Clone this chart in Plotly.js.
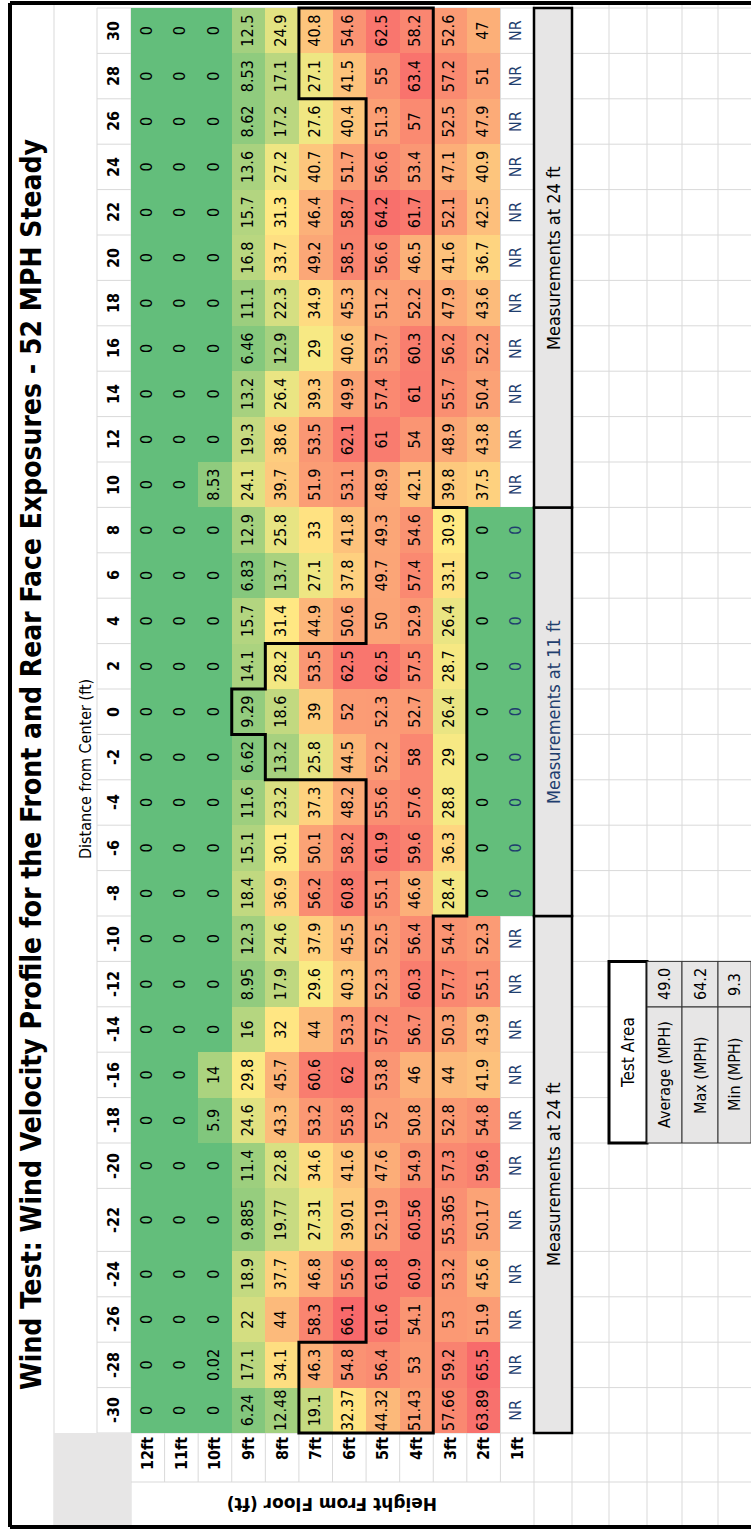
<!DOCTYPE html>
<html><head><meta charset="utf-8">
<script src="https://cdn.plot.ly/plotly-3.0.1.min.js"></script>
<style>
html,body{margin:0;padding:0;width:751px;height:1529px;overflow:hidden;background:#fff}
#wrap{position:absolute;left:0;top:0;width:1529px;height:751px;transform-origin:0 0;transform:translate(0px,1529px) rotate(-90deg);}
#chart{width:1529px;height:751px}
</style></head>
<body><div id="wrap"><div id="chart"></div></div>
<script>
// ---------------- DATA ----------------
const distances = [-30,-28,-26,-24,-22,-20,-18,-16,-14,-12,-10,-8,-6,-4,-2,0,2,4,6,8,10,12,14,16,18,20,22,24,26,28,30];
const heights = ['12ft','11ft','10ft','9ft','8ft','7ft','6ft','5ft','4ft','3ft','2ft','1ft'];
// values per height row, ordered by distance -30 ... 30
const h12 = [0,0,0,0,0,0,0,0,0,0,0,0,0,0,0,0,0,0,0,0,0,0,0,0,0,0,0,0,0,0,0];
const h11 = [0,0,0,0,0,0,0,0,0,0,0,0,0,0,0,0,0,0,0,0,0,0,0,0,0,0,0,0,0,0,0];
const h10 = [0,0.02,0,0,0,0,5.9,14,0,0,0,0,0,0,0,0,0,0,0,0,8.53,0,0,0,0,0,0,0,0,0,0];
const h9  = [6.24,17.1,22,18.9,9.885,11.4,24.6,29.8,16,8.95,12.3,18.4,15.1,11.6,6.62,9.29,14.1,15.7,6.83,12.9,24.1,19.3,13.2,6.46,11.1,16.8,15.7,13.6,8.62,8.53,12.5];
const h8  = [12.48,34.1,44,37.7,19.77,22.8,43.3,45.7,32,17.9,24.6,36.9,30.1,23.2,13.2,18.6,28.2,31.4,13.7,25.8,39.7,38.6,26.4,12.9,22.3,33.7,31.3,27.2,17.2,17.1,24.9];
const h7  = [19.1,46.3,58.3,46.8,27.31,34.6,53.2,60.6,44,29.6,37.9,56.2,50.1,37.3,25.8,39,53.5,44.9,27.1,33,51.9,53.5,39.3,29,34.9,49.2,46.4,40.7,27.6,27.1,40.8];
const h6  = [32.37,54.8,66.1,55.6,39.01,41.6,55.8,62,53.3,40.3,45.5,60.8,58.2,48.2,44.5,52,62.5,50.6,37.8,41.8,53.1,62.1,49.9,40.6,45.3,58.5,58.7,51.7,40.4,41.5,54.6];
const h5  = [44.32,56.4,61.6,61.8,52.19,47.6,52,53.8,57.2,52.3,52.5,55.1,61.9,55.6,52.2,52.3,62.5,50,49.7,49.3,48.9,61,57.4,53.7,51.2,56.6,64.2,56.6,51.3,55,62.5];
const h4  = [51.43,53,54.1,60.9,60.56,54.9,50.8,46,56.7,60.3,56.4,46.6,59.6,57.6,58,52.7,57.5,52.9,57.4,54.6,42.1,54,61,60.3,52.2,46.5,61.7,53.4,57,63.4,58.2];
const h3  = [57.66,59.2,53,53.2,55.365,57.3,52.8,44,50.3,57.7,54.4,28.4,36.3,28.8,29,26.4,28.7,26.4,33.1,30.9,39.8,48.9,55.7,56.2,47.9,41.6,52.1,47.1,52.5,57.2,52.6];
const h2  = [63.89,65.5,51.9,45.6,50.17,59.6,54.8,41.9,43.9,55.1,52.3,0,0,0,0,0,0,0,0,0,37.5,43.8,50.4,52.2,43.6,36.7,42.5,40.9,47.9,51,47];
const h1  = ['NR','NR','NR','NR','NR','NR','NR','NR','NR','NR','NR',0,0,0,0,0,0,0,0,0,'NR','NR','NR','NR','NR','NR','NR','NR','NR','NR','NR'];
const rows = [h12,h11,h10,h9,h8,h7,h6,h5,h4,h3,h2,h1];
// test area outline: top and bottom height per distance column
const testTop = ['7ft','7ft','5ft','5ft','5ft','5ft','5ft','5ft','5ft','5ft','5ft','5ft','5ft','5ft','8ft','9ft','8ft','5ft','5ft','5ft','5ft','5ft','5ft','5ft','5ft','5ft','5ft','5ft','5ft','7ft','7ft'];
const testBottom = ['4ft','4ft','4ft','4ft','4ft','4ft','4ft','4ft','4ft','4ft','4ft','3ft','3ft','3ft','3ft','3ft','3ft','3ft','3ft','3ft','4ft','4ft','4ft','4ft','4ft','4ft','4ft','4ft','4ft','4ft','4ft'];
// measurement groups
const groupFrom = [-30,-8,10];
const groupTo = [-10,8,30];
const groupLabels = ['Measurements at 24 ft','Measurements at 11 ft','Measurements at 24 ft'];
// test area summary
const statLabels = ['Average (MPH)','Max (MPH)','Min (MPH)'];
const statValues = ['49.0','64.2','9.3'];
const statFrom = -18, statTo = -12;
const titleText = 'Wind Test: Wind Velocity Profile for the Front and Rear Face Exposures - 52 MPH Steady';

// ---------------- LAYOUT GEOMETRY (unrotated page, px) ----------------
const W = 1529, H = 751;
const G = {borderTop:10, borderL:2, borderR:1526, titleBot:54, distBot:97, headBot:131,
  dataBot:534, measBot:572, extraRows:[609,647,682,718], rowLabL:47, dataL:96, dataR:1521};
const NARROW = "'Liberation Sans Narrow','Arial Narrow','DejaVu Sans Condensed',sans-serif";
const GRAY = '#E7E6E6', GRID = '#D9D9D9', NAVY = '#1F3E6E';

const widthUnits = distances.map(d => d === -22 ? 63/45.4 : 1);
const E = [0]; widthUnits.forEach((w,i)=>E.push(E[i]+w));
const T = E[E.length-1];
const centers = distances.map((d,i)=>(E[i]+E[i+1])/2);
const s = (G.dataR - G.dataL)/T;
const rowH = (G.dataBot - G.headBot)/heights.length;
const xr = [-G.dataL/s, (W-G.dataL)/s];
const yr = [-0.5 + (H-G.headBot)/rowH, -0.5 - G.headBot/rowH];
const pu = u => u/W, pv = v => 1 - v/H;
const hi = h => heights.indexOf(h);
const di = d => distances.indexOf(d);

// colour scale: Excel 3-colour (min / 50th percentile / max)
const nums = [];
rows.forEach(r=>r.forEach(v=>{ if(typeof v==='number') nums.push(v); }));
nums.sort((a,b)=>a-b);
const zmin = nums[0], zmax = nums[nums.length-1];
const pos = (nums.length-1)*0.5, lo = Math.floor(pos);
const zmid = nums[lo] + (nums[Math.min(lo+1,nums.length-1)]-nums[lo])*(pos-lo);
const colorscale = [[0,'rgb(99,190,123)'],[(zmid-zmin)/(zmax-zmin),'rgb(255,235,132)'],[1,'rgb(248,105,107)']];

const z = rows.map(r=>r.map(v=> typeof v==='number' ? v : null));
const heat = {type:'heatmap', x:E, y:heights.map((h,i)=>i), z:z, colorscale:colorscale,
  zmin:zmin, zmax:zmax, showscale:false, hoverinfo:'skip', xgap:0, ygap:0};

const tx=[], ty=[], tt=[], tc=[];
rows.forEach((r,ri)=>r.forEach((v,ci)=>{
  tx.push(centers[ci]); ty.push(ri); tt.push(String(v));
  tc.push((v==='NR' || heights[ri]==='1ft') ? NAVY : '#000');
}));
const txt = {type:'scatter', mode:'text', x:tx, y:ty, text:tt, textposition:'middle center',
  textfont:{family:NARROW, size:16, color:tc}, hoverinfo:'skip', cliponaxis:false, showlegend:false};

// ---------------- SHAPES ----------------
const shapes = [];
const line = (x0,y0,x1,y1,color,w,layer,xref,yref)=>shapes.push({type:'line',x0,y0,x1,y1,xref,yref,layer,line:{color,width:w}});
// gridlines
E.forEach(e=>line(e,pv(G.distBot),e,0,GRID,1,'below','x','paper'));
line(pu(G.rowLabL),pv(G.headBot),pu(G.rowLabL),0,GRID,1,'below','paper','paper');
line(pu(G.borderL),pv(G.titleBot),pu(G.borderR),pv(G.titleBot),GRID,1,'below','paper','paper');
line(pu(G.dataL),pv(G.distBot),pu(G.dataR),pv(G.distBot),GRID,1,'below','paper','paper');
line(pu(G.borderL),pv(G.headBot),pu(G.dataR),pv(G.headBot),GRID,1,'below','paper','paper');
for(let k=1;k<heights.length;k++) line(pu(G.rowLabL),k-0.5,pu(G.dataR),k-0.5,GRID,1,'below','paper','y');
[G.dataBot,G.measBot].concat(G.extraRows).forEach(v=>line(pu(G.borderL),pv(v),pu(G.borderR),pv(v),GRID,1,'below','paper','paper'));
// gray corner
shapes.push({type:'rect',xref:'paper',yref:'paper',x0:pu(G.borderL),x1:pu(G.dataL),y0:pv(G.headBot),y1:pv(G.titleBot),fillcolor:GRAY,line:{width:0},layer:'below'});
// measurement boxes
groupFrom.forEach((f,i)=>{
  shapes.push({type:'rect',xref:'x',yref:'paper',x0:E[di(f)],x1:E[di(groupTo[i])+1],y0:pv(G.measBot),y1:pv(G.dataBot),
    fillcolor:GRAY,line:{color:'#000',width:2.5},layer:'above'});
});
// test area outline
const tTop = testTop.map(hi), tBot = testBottom.map(hi);
let p = `M ${E[0]},${tTop[0]-0.5}`;
for(let c=0;c<tTop.length;c++){ p+=` L ${E[c+1]},${tTop[c]-0.5}`; if(c<tTop.length-1) p+=` L ${E[c+1]},${tTop[c+1]-0.5}`; }
p+=` L ${E[tBot.length]},${tBot[tBot.length-1]+0.5}`;
for(let c=tBot.length-1;c>=0;c--){ p+=` L ${E[c]},${tBot[c]+0.5}`; if(c>0) p+=` L ${E[c]},${tBot[c-1]+0.5}`; }
p+=' Z';
shapes.push({type:'path',path:p,xref:'x',yref:'y',line:{color:'#000',width:3},layer:'above'});
// test area summary table
const sx0 = E[di(statFrom)], sx1 = E[di(statTo)+1], sxv = E[di(statTo)];
shapes.push({type:'rect',xref:'x',yref:'paper',x0:sx0,x1:sx1,y0:pv(G.extraRows[1]),y1:pv(G.extraRows[0]),fillcolor:'#fff',line:{color:'#000',width:3},layer:'above'});
const statRowsV = [G.extraRows[1],G.extraRows[2],G.extraRows[3],H];
statLabels.forEach((l,i)=>{
  shapes.push({type:'rect',xref:'x',yref:'paper',x0:sx0,x1:sxv,y0:pv(statRowsV[i+1]),y1:pv(statRowsV[i]),fillcolor:GRAY,line:{color:'#333',width:1},layer:'above'});
  shapes.push({type:'rect',xref:'x',yref:'paper',x0:sxv,x1:sx1,y0:pv(statRowsV[i+1]),y1:pv(statRowsV[i]),fillcolor:GRAY,line:{color:'#333',width:1},layer:'above'});
});
// outer border
line(pu(G.borderL),pv(G.borderTop),pu(G.borderR),pv(G.borderTop),'#000',4,'above','paper','paper');
line(pu(G.borderL),pv(G.borderTop),pu(G.borderL),0,'#000',4,'above','paper','paper');
line(pu(G.borderR),pv(G.borderTop),pu(G.borderR),0,'#000',4,'above','paper','paper');

// ---------------- ANNOTATIONS ----------------
const ann = [];
const A = (o)=>ann.push(Object.assign({showarrow:false,xanchor:'center',yanchor:'middle'},o));
A({xref:'paper',yref:'paper',x:pu((G.borderL+G.borderR)/2),y:pv((G.borderTop+G.titleBot)/2),text:'<b>'+titleText+'</b>',font:{family:NARROW,size:28,color:'#000'}});
A({xref:'paper',yref:'paper',x:pu(760),y:pv(86),text:'Distance from Center (ft)',font:{family:NARROW,size:16,color:'#000'}});
distances.forEach((d,i)=>A({xref:'x',yref:'paper',x:centers[i],y:pv((G.distBot+G.headBot)/2),text:'<b>'+d+'</b>',font:{family:NARROW,size:16,color:'#000'}}));
heights.forEach((h,i)=>A({xref:'paper',yref:'y',x:pu(G.dataL-2),y:i,xanchor:'right',text:'<b>'+h+'</b>',font:{family:NARROW,size:16,color:'#000'}}));
A({xref:'paper',yref:'paper',x:pu((G.borderL+G.rowLabL)/2),y:pv((G.headBot+G.dataBot)/2),textangle:-90,text:'<b>Height From Floor (ft)</b>',font:{family:"'DejaVu Sans',sans-serif",size:17,color:'#000'}});
groupFrom.forEach((f,i)=>A({xref:'x',yref:'paper',x:(E[di(f)]+E[di(groupTo[i])+1])/2,y:pv((G.dataBot+G.measBot)/2),text:groupLabels[i],font:{family:NARROW,size:18,color: i===1?NAVY:'#000'}}));
A({xref:'x',yref:'paper',x:(sx0+sx1)/2,y:pv((G.extraRows[0]+G.extraRows[1])/2),text:'Test Area',font:{family:NARROW,size:17,color:'#000'}});
statLabels.forEach((l,i)=>{
  A({xref:'x',yref:'paper',x:(sx0+sxv)/2,y:pv((statRowsV[i]+statRowsV[i+1])/2),text:l,font:{family:NARROW,size:16,color:'#000'}});
  A({xref:'x',yref:'paper',x:(sxv+sx1)/2,y:pv((statRowsV[i]+statRowsV[i+1])/2),text:statValues[i],font:{family:NARROW,size:16,color:'#000'}});
});

const layout = {width:W,height:H,margin:{l:0,r:0,t:0,b:0},paper_bgcolor:'#fff',plot_bgcolor:'rgba(0,0,0,0)',
  xaxis:{range:xr,domain:[0,1],visible:false,fixedrange:true},
  yaxis:{range:yr,domain:[0,1],visible:false,fixedrange:true},
  shapes:shapes, annotations:ann, showlegend:false, font:{family:NARROW}};
Plotly.newPlot('chart',[heat,txt],layout,{displayModeBar:false,staticPlot:true});
</script></body></html>
